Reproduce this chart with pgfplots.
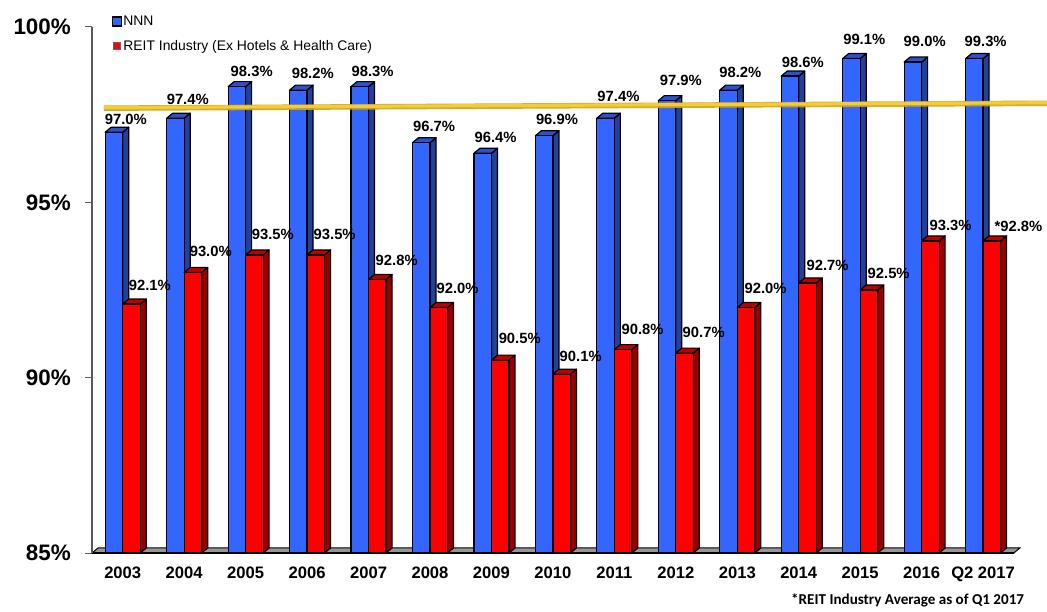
\documentclass[border=0pt]{standalone}
\usepackage{fontspec}
\setmainfont{Liberation Sans}
\newfontfamily\notefont{Carlito}
\usepackage{pgfplots}
\usepackage{pgfplotstable}
\pgfplotsset{compat=1.18}

\definecolor{nnnfront}{HTML}{3366FF}
\definecolor{nnntop}{HTML}{2A52CC}
\definecolor{nnnside}{HTML}{23409A}
\definecolor{reitfront}{HTML}{FF0000}
\definecolor{reittop}{HTML}{C00000}
\definecolor{reitside}{HTML}{990000}
\definecolor{floorgray}{HTML}{969696}
\definecolor{trend}{HTML}{CFA020}
\definecolor{trendlight}{HTML}{F4CE30}

% faces of a 3d bar, \ry comes from visualization depends on
\newcommand\barmark[5]{%
  \pgfdeclareplotmark{#1}{%
    \pgfmathsetmacro\hh{(\ry-85)*35.0667}%
    \pgfmathsetmacro\rr{#2+17.5}%
    \draw[line width=1.2pt,fill=#4,line join=round] (\rr pt,0pt) -- (\rr pt+6pt,5pt) -- (\rr pt+6pt,5pt-\hh pt) -- (\rr pt,-\hh pt) -- cycle;
    \draw[line width=1.2pt,fill=#3,line join=round] (#2pt,0pt) -- (#2pt+6pt,5pt) -- (\rr pt+6pt,5pt) -- (\rr pt,0pt) -- cycle;
    \draw[line width=1.2pt,fill=#5] (#2pt,0pt) rectangle (\rr pt,-\hh pt);
  }%
}
\barmark{nnnbar}{-17.5}{nnntop}{nnnside}{nnnfront}
\barmark{reitbar}{0}{reittop}{reitside}{reitfront}

% dx, dy: label offset in pt from the category centre, lab: printed label (bars as drawn in the source)
\pgfplotstableread{
x y lab dx dy
0 97.0 97.0 -18.5 13
1 97.4 97.4 -18 19
2 98.3 98.3 -15.5 15
3 98.2 98.2 -15.9 17
4 98.3 98.3 -17.5 15
5 96.7 96.7 -17.5 16
6 96.4 96.4 -17.5 16
7 96.9 96.9 -17.5 16
8 97.4 97.4 -17.5 22
9 97.9 97.9 -16.5 20
10 98.2 98.2 -18.5 18
11 98.6 98.6 -17.5 14
12 99.1 99.1 -17.5 19.5
13 99.0 99.0 -18.5 21
14 99.1 99.3 -19 17.5
}\nnndata

\pgfplotstableread{
x y lab dx dy
0 92.1 92.1 5.5 19
1 93.0 93.0 5 21
2 93.5 93.5 5.6 21
3 93.5 93.5 6 21
4 92.8 92.8 6.6 19.5
5 92.0 92.0 6 19.5
6 90.5 90.5 6.7 22
7 90.1 90.1 6.2 18
8 90.8 90.8 6.7 20.6
9 90.7 90.7 6.3 21
10 92.0 92.0 6.8 19.5
11 92.7 92.7 7.3 18
12 92.5 92.5 6.9 17
13 93.9 93.3 7.4 15
14 93.9 *92.8 10.9 15
}\reitdata

\pgfplotsset{
  barlabels/.style={
    point meta=explicit symbolic,
    visualization depends on={\thisrow{dx} \as \lx},
    visualization depends on={\thisrow{dy} \as \ly},
    nodes near coords={\pgfplotspointmeta\%},
    nodes near coords align={anchor=west},
    every node near coord/.append style={
      inner sep=0pt, xshift=\lx pt, yshift=\ly pt,
      font=\fontsize{14.8}{15}\selectfont\bfseries, text=black},
  },
  barfaces/.style={
    forget plot, scatter, only marks, mark=#1,
    point meta=y,
    visualization depends on={y \as \ry},
    scatter/@pre marker code/.code={\scope},
    scatter/@post marker code/.code={\endscope},
  },
}

\begin{document}
\begin{tikzpicture}
\useasboundingbox (-92pt,-58pt) rectangle (955pt,553pt);
\begin{axis}[
  at={(0pt,0pt)}, anchor=south west,
  scale only axis,
  width=955pt, height=526pt,
  xmin=-0.5, xmax=15.04,
  ymin=85, ymax=100,
  axis on top,
  clip marker paths=true,
  axis x line*=bottom,
  axis y line*=left,
  axis line style={-},
  x axis line style={black, line width=1.2pt, shorten >=33pt},
  y axis line style={black!65, line width=1.4pt},
  xtick={0,1,...,14},
  xticklabels={2003,2004,2005,2006,2007,2008,2009,2010,2011,2012,2013,2014,2015,2016,Q2 2017},
  minor xtick={-0.5,0.5,...,14.5},
  ytick={85,90,95,100},
  yticklabel={\pgfmathprintnumber{\tick}\%},
  /pgf/number format/assume math mode=true,
  tick align=outside,
  major tick length=7pt,
  minor tick length=7pt,
  xtick style={draw=none},
  minor x tick style={black!65, line width=1pt},
  ytick style={black!65, line width=1pt},
  xticklabel style={font=\fontsize{16.6}{17}\selectfont\bfseries, inner sep=0pt, yshift=-7pt},
  yticklabel style={font=\fontsize{22.4}{23}\selectfont\bfseries, inner sep=0pt, xshift=-14pt},
  legend style={
    at={(0.0203,1.025)}, anchor=north west,
    draw=none, fill=none,
    font=\fontsize{13.9}{14}\selectfont,
    row sep=9pt, inner sep=0pt,
    nodes={inner xsep=1pt},
  },
  legend cell align=left,
]
% floor of the 3d chart
\addplot[fill=floorgray, draw=black, line width=1pt, forget plot] coordinates {
  (-0.5,85) (14.5,85) (14.598,85.143) (-0.402,85.143) (-0.5,85)
};

\addplot[barfaces=nnnbar] table[x=x,y=y] {\nnndata};
\addplot[ybar, bar width=17.5pt, bar shift=-8.75pt, fill=nnnfront, draw=black, line width=1.2pt,
  barlabels,
  legend image code/.code={\draw[fill=nnnfront,draw=black,line width=1.8pt] (0pt,-4.5pt) rectangle (9pt,4.5pt);}]
  table[x=x,y=y,meta=lab] {\nnndata};
\addlegendentry{NNN}

\addplot[barfaces=reitbar] table[x=x,y=y] {\reitdata};
\addplot[ybar, bar width=17.5pt, bar shift=8.75pt, fill=reitfront, draw=black, line width=1.2pt,
  barlabels,
  legend image code/.code={\draw[fill=reitfront,draw=black!60,line width=0.8pt] (1pt,-3.5pt) rectangle (8pt,3.5pt);}]
  table[x=x,y=y,meta=lab] {\reitdata};
\addlegendentry{REIT Industry (Ex Hotels \& Health Care)}

% yellow trend line across the bars
\addplot[trend, line width=5.5pt, opacity=0.9, forget plot] coordinates {(-0.305,97.685) (15.04,97.825)};
\addplot[trendlight, line width=3.2pt, forget plot] coordinates {(-0.305,97.7) (15.04,97.84)};
\end{axis}
\node[anchor=west, inner sep=0pt, font=\notefont\fontsize{15.1}{16}\selectfont\bfseries] at (699pt,-47pt) {*REIT Industry Average as of Q1 2017};
\end{tikzpicture}
\end{document}
